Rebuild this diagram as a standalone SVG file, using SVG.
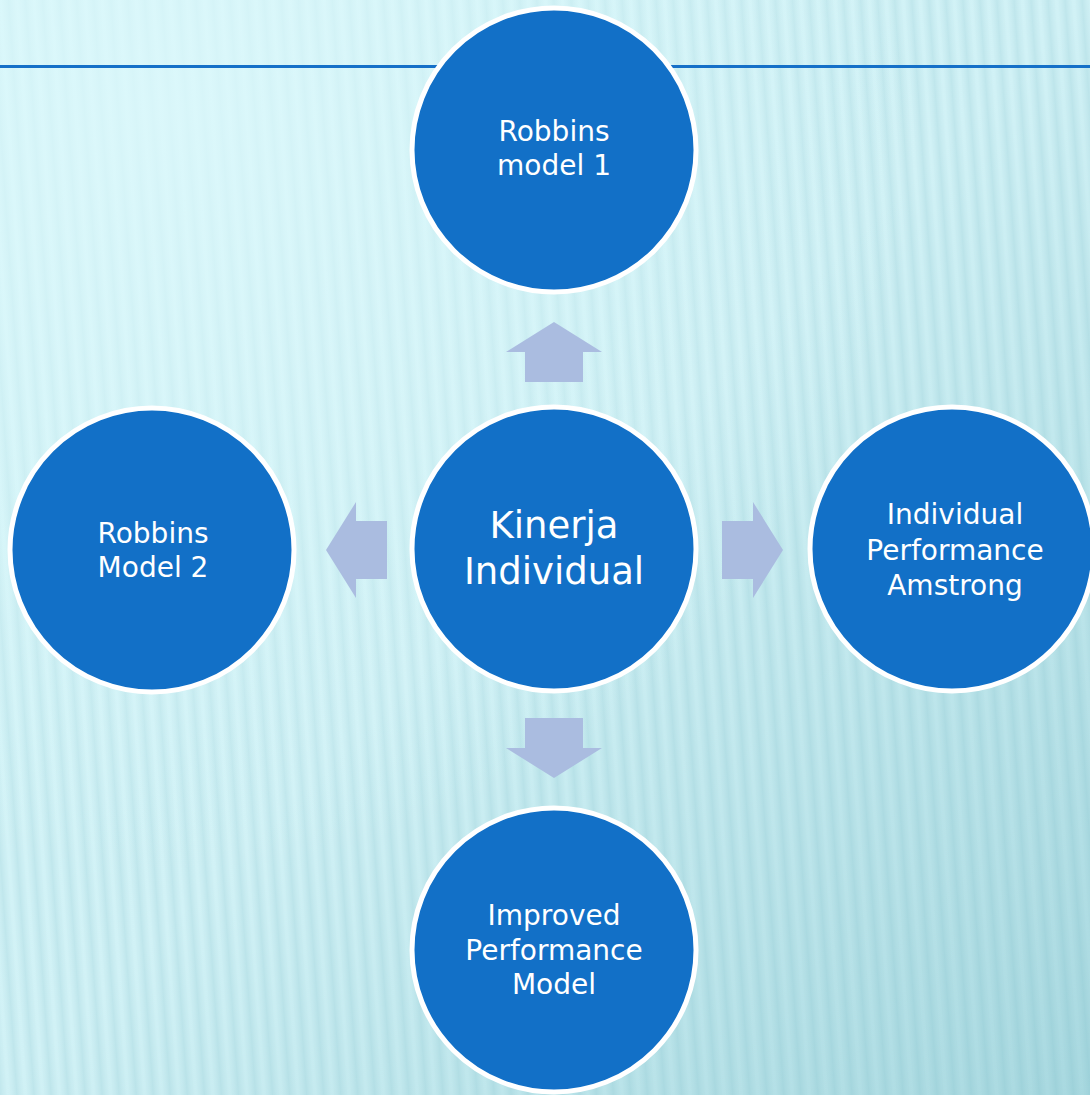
<svg xmlns="http://www.w3.org/2000/svg" width="1090" height="1095" viewBox="0 0 1090 1095">
  <defs>
    <linearGradient id="bg" x1="0" y1="0" x2="1" y2="1">
      <stop offset="0" stop-color="#d8f7fa"/>
      <stop offset="0.5" stop-color="#d2f2f6"/>
      <stop offset="1" stop-color="#a9d9e0"/>
    </linearGradient>
    <linearGradient id="stripeGrad" x1="0" y1="0" x2="1" y2="0">
      <stop offset="0" stop-color="#5fa9b8" stop-opacity="0"/>
      <stop offset="0.35" stop-color="#5fa9b8" stop-opacity="0.10"/>
      <stop offset="0.5" stop-color="#5fa9b8" stop-opacity="0.16"/>
      <stop offset="0.65" stop-color="#5fa9b8" stop-opacity="0.10"/>
      <stop offset="1" stop-color="#5fa9b8" stop-opacity="0"/>
    </linearGradient>
    <pattern id="stripes" width="17" height="40" patternUnits="userSpaceOnUse" patternTransform="rotate(-4)">
      <rect x="0" y="0" width="17" height="40" fill="url(#stripeGrad)"/>
    </pattern>
    <radialGradient id="fadeTL" cx="0.15" cy="0.1" r="0.7">
      <stop offset="0" stop-color="#dcf8fb" stop-opacity="0.85"/>
      <stop offset="1" stop-color="#dcf8fb" stop-opacity="0"/>
    </radialGradient>
  </defs>
  <style>
    .node circle { fill: #1270c7; stroke: #ffffff; stroke-width: 5; }
    .node text { fill: #ffffff; font-family: "DejaVu Sans", "Liberation Sans", sans-serif; text-anchor: middle; font-size: 28px; }
    .node text.big { font-size: 37px; }
    .arrow { fill: #aabce0; }
  </style>

  <rect x="0" y="0" width="1090" height="1095" fill="url(#bg)"/>
  <rect x="0" y="0" width="1090" height="1095" fill="url(#stripes)"/>
  <rect x="0" y="0" width="1090" height="1095" fill="url(#fadeTL)"/>
  <rect x="0" y="65" width="1090" height="3" fill="#1570c8"/>

  <g id="connectors">
    <polygon class="arrow" points="554,322 602,352 583,352 583,382 525,382 525,352 506,352"/>
    <polygon class="arrow" points="326,550 356,502 356,521 387,521 387,579 356,579 356,598"/>
    <polygon class="arrow" points="783,550 753,502 753,521 722,521 722,579 753,579 753,598"/>
    <polygon class="arrow" points="554,778 602,748 583,748 583,718 525,718 525,748 506,748"/>
  </g>

  <g id="node-top" class="node">
    <circle cx="554" cy="150" r="142"/>
    <text x="554" y="141">Robbins</text>
    <text x="554" y="175">model 1</text>
  </g>

  <g id="node-left" class="node">
    <circle cx="152" cy="550" r="142"/>
    <text x="153" y="543">Robbins</text>
    <text x="153" y="577">Model 2</text>
  </g>

  <g id="node-center" class="node">
    <circle cx="554" cy="549" r="142"/>
    <text class="big" x="554" y="538">Kinerja</text>
    <text class="big" x="554" y="584">Individual</text>
  </g>

  <g id="node-right" class="node">
    <circle cx="952" cy="549" r="142"/>
    <text x="955" y="524">Individual</text>
    <text x="955" y="560">Performance</text>
    <text x="955" y="595">Amstrong</text>
  </g>

  <g id="node-bottom" class="node">
    <circle cx="554" cy="950" r="142"/>
    <text x="554" y="925">Improved</text>
    <text x="554" y="960">Performance</text>
    <text x="554" y="994">Model</text>
  </g>
</svg>
